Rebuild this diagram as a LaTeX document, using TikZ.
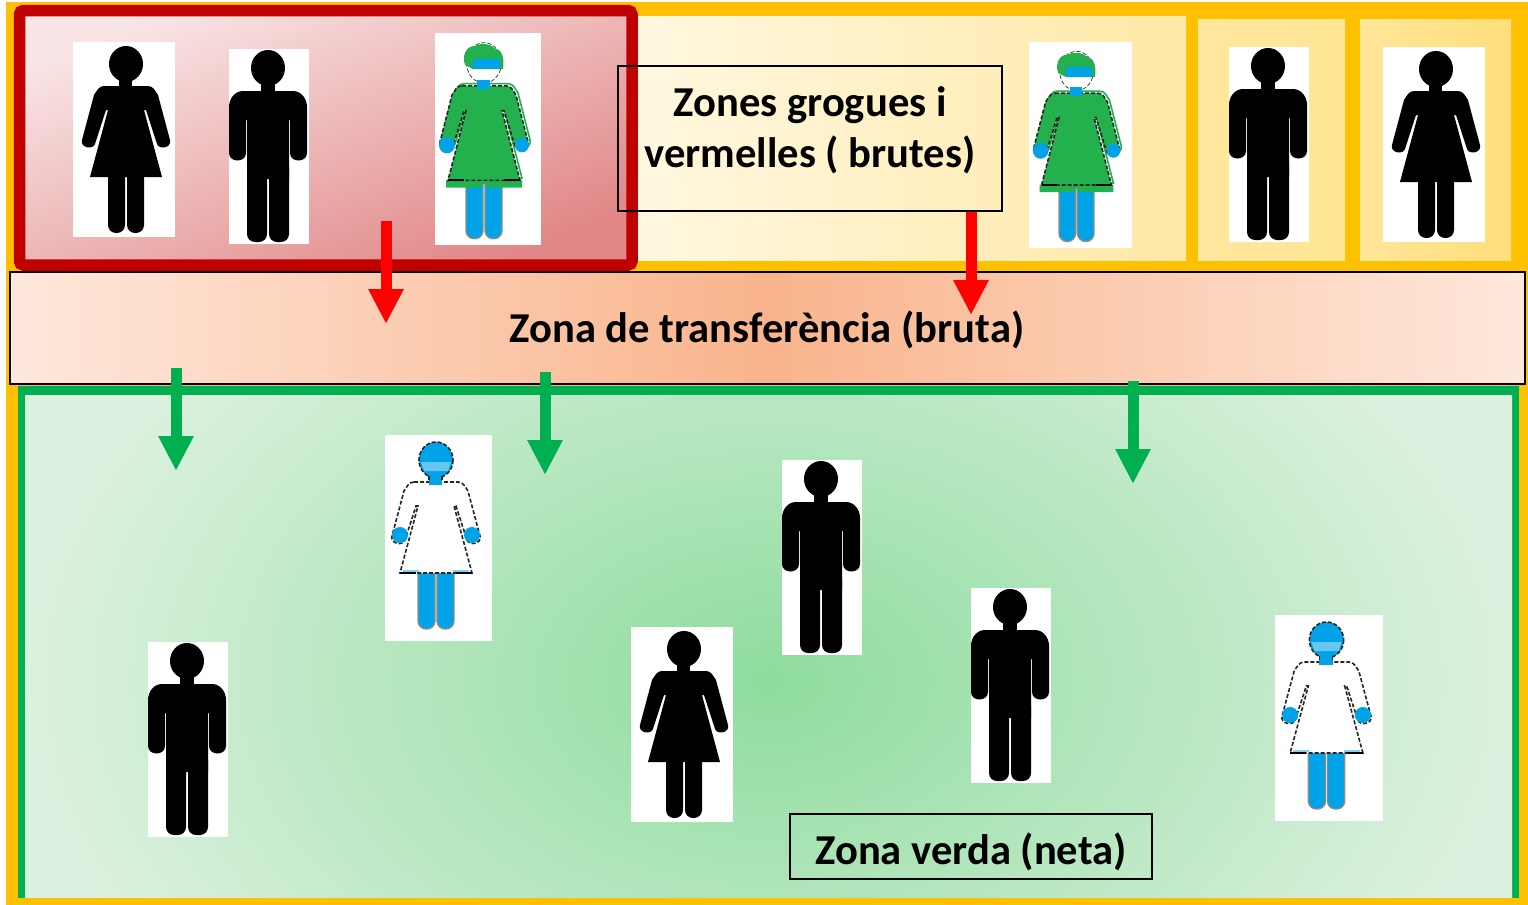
\documentclass[tikz,border=0pt]{standalone}
\usepackage{fontspec}
\setmainfont{Carlito}
\usetikzlibrary{arrows.meta}

\definecolor{zoneyellow}{HTML}{FFC000}
\definecolor{zonered}{HTML}{C00000}
\definecolor{zonegreen}{HTML}{00B050}
\definecolor{nursegreen}{HTML}{22B14C}
\definecolor{nurseblue}{HTML}{00A2E8}
\definecolor{bandedge}{HTML}{FEE8DC}
\definecolor{bandmid}{HTML}{F9B48C}
\definecolor{cleanmid}{HTML}{8EDC9E}
\definecolor{cleanedge}{HTML}{DCF1DF}

\newcommand{\womanbody}{(31,44) -- (75,44) to[out=0,in=125] (85,53) -- (97,98)
  .. controls (99,106) and (86,108) .. (84,102) -- (73,68) -- (71,68) -- (89,135)
  -- (17,135) -- (35,68) -- (33,68) -- (22,102)
  .. controls (20,108) and (7,106) .. (9,98) -- (21,53) to[out=55,in=180] (31,44) -- cycle}
\newcommand{\womanlegs}{(35,125) rectangle (52,191) (54,125) rectangle (71,191)}

\tikzset{
  picbox/.style={fill=white},
  nursedash/.style={draw=black!85,line width=0.8pt,dash pattern=on 2pt off 1pt},
  legline/.style={draw=black!45,line width=0.7pt},
  labeltext/.style={inner sep=0pt,align=center,font=\fontsize{21.3}{25.5}\selectfont\bfseries},
  infobox/.style={draw=black,line width=1pt,inner sep=0pt},
  redarrow/.style={draw=red,line width=5.5pt,-{Triangle[length=17.5pt,width=16.5pt]}},
  greenarrow/.style={draw=zonegreen,line width=5.5pt,-{Triangle[length=17.5pt,width=16.5pt]}},
  man/.pic={
    \fill[picbox] (0,0) rectangle (80,195);
    \fill[black] (39,19) ellipse [x radius=17,y radius=18];
    \fill[black] (32,30) rectangle (46,46);
    \fill[black] (0,58) to[out=90,in=180] (14,42) -- (64,42) to[out=0,in=90] (78,58)
      -- (78,104) .. controls (78,114) and (61,114) .. (61,104) -- (61,71) -- (60,71)
      -- (60,130) -- (18,130) -- (18,71) -- (17,71) -- (17,104)
      .. controls (17,114) and (0,114) .. (0,104) -- cycle;
    \fill[black,rounded corners=4pt] (18,110) rectangle (38,193) (40,110) rectangle (60,193);
    \fill[black] (18,105) rectangle (60,115);
  },
  woman/.pic={
    \fill[picbox] (0,0) rectangle (102,195);
    \fill[black] (53,22) ellipse [x radius=17,y radius=18];
    \fill[black] (46,34) rectangle (59,46);
    \fill[black] \womanbody;
    \fill[black,rounded corners=4pt] \womanlegs;
  },
  greennurse/.pic={
    \fill[picbox] (0,0) rectangle (106,212);
    \begin{scope}[shift={(-4,7)},yscale=1.04]
      \draw[nursegreen,line width=0.8pt,shift={(2,-2)}] \womanbody;
      \fill[nurseblue,rounded corners=4pt] \womanlegs;
      \draw[legline,rounded corners=4pt] \womanlegs;
      \fill[nursegreen] (15,135) -- (91,135) -- (91,142) -- (57,142) -- (53,138) -- (49,142) -- (15,142) -- cycle;
      \fill[nursegreen] \womanbody;
      \draw[nursedash] \womanbody;
      \draw[black,line width=1pt] (17,135) -- (33,135) (73,135) -- (89,135);
      \fill[nurseblue] (16,101) circle [radius=8];
      \fill[nurseblue] (91,101) circle [radius=7];
      \draw[nursedash] (53,22) ellipse [x radius=17,y radius=19];
      \fill[white] (53,22) ellipse [x radius=17,y radius=19];
      \fill[nursegreen] (34,24) .. controls (30,12) and (38,5) .. (44,6)
        .. controls (50,2) and (60,4) .. (64,8) .. controls (70,9) and (74,16) .. (72,28)
        -- (42,28) -- cycle;
      \fill[nurseblue] (42,18) -- (69,18) -- (69,28) -- (42,28) -- cycle;
      \fill[nurseblue] (46,38) rectangle (59,47);
    \end{scope}
  },
  bluenurse/.pic={
    \fill[picbox] (0,0) rectangle (107,206);
    \begin{scope}[shift={(-2,3)}]
      \fill[nurseblue,rounded corners=4pt] \womanlegs;
      \draw[legline,rounded corners=4pt] \womanlegs;
      \fill[white] \womanbody;
      \draw[nursedash] \womanbody;
      \draw[nurseblue!50,line width=1pt] (20,133) -- (36,133) (70,133) -- (86,133);
      \draw[black,line width=1pt] (17,135) -- (33,135) (73,135) -- (89,135);
      \fill[nurseblue] (17,97) circle [radius=8];
      \fill[nurseblue] (89,97) circle [radius=8];
      \fill[nurseblue] (53,22) ellipse [x radius=17,y radius=18];
      \draw[nursedash] (53,22) ellipse [x radius=17,y radius=18];
      \fill[nurseblue!60] (38,24) -- (68,24) -- (65,33) -- (41,33) -- cycle;
      \fill[nurseblue] (46,38) rectangle (59,47);
      \draw[nursedash] (46,38) -- (46,44) (59,38) -- (59,44);
    \end{scope}
  },
}

\begin{document}
\begin{tikzpicture}[x=0.5pt,y=-0.5pt]
\useasboundingbox (0,0) rectangle (1528,905);

\fill[zoneyellow] (6,2) rectangle (1528,905);
\shade[left color=zoneyellow!12!white,right color=zoneyellow!35!white] (638,16) rectangle (1186,260);
\shade[left color=zoneyellow!38!white,right color=zoneyellow!42!white] (1198,19) rectangle (1345,260);
\shade[left color=zoneyellow!40!white,right color=zoneyellow!52!white] (1360,19) rectangle (1511,260);

\fill[zonegreen] (18,386) rectangle (1519,898);
\begin{scope}
\clip (25,395) rectangle (1512,897);
\shade[inner color=cleanmid,outer color=cleanedge] (25,180) rectangle (1512,1180);
\end{scope}

\node (transferzone) [draw=black,line width=1.25pt,minimum width=757.5pt,minimum height=56pt,
  inner sep=0pt,left color=bandedge,right color=bandedge,middle color=bandmid] at (767.5,328) {};
\node (transferlabel) [labeltext] at (767,330) {Zona de transferència (bruta)};

\draw[draw=zonered,line width=5.75pt,rounded corners=2pt,shading=axis,
  left color=zonered!10!white,right color=zonered!47!white,shading angle=22] (19.5,10.5) rectangle (632,265);

\pic (womanA) at (73,42) {woman};
\pic (manA) at (229,49) {man};
\pic (nurseA) at (435,33) {greennurse};
\pic (nurseB) [xscale=0.97,yscale=0.97] at (1029,42) {greennurse};
\pic (manB) at (1229,47) {man};
\pic (womanB) at (1383,47) {woman};

\pic (nurseC) at (385,435) {bluenurse};
\pic (manC) at (782,460) {man};
\pic (manD) at (148,642) {man};
\pic (womanC) at (631,627) {woman};
\pic (manE) at (971,588) {man};
\pic (nurseD) [xscale=1.01] at (1275,615) {bluenurse};

\node (dirtybox) [infobox,minimum width=192pt,minimum height=72.5pt] at (810,138.5) {};
\node (dirtylabel) [labeltext] at (810,130) {Zones grogues i\\vermelles ( brutes)};
\node (cleanbox) [infobox,minimum width=181pt,minimum height=32.5pt] at (971,846.5) {};
\node (cleanlabel) [labeltext] at (971,852) {Zona verda (neta)};

\coordinate (redstartA) at (386,221);
\coordinate (redendA) at (386,324);
\coordinate (redstartB) at (971,212);
\coordinate (redendB) at (971,315);
\coordinate (greenstartA) at (176,368);
\coordinate (greenendA) at (176,471);
\coordinate (greenstartB) at (545,372);
\coordinate (greenendB) at (545,475);
\coordinate (greenstartC) at (1133,381);
\coordinate (greenendC) at (1133,484);

\draw[redarrow] (redstartA) -- (redendA);
\draw[redarrow] (redstartB) -- (redendB);
\draw[greenarrow] (greenstartA) -- (greenendA);
\draw[greenarrow] (greenstartB) -- (greenendB);
\draw[greenarrow] (greenstartC) -- (greenendC);
\end{tikzpicture}
\end{document}
